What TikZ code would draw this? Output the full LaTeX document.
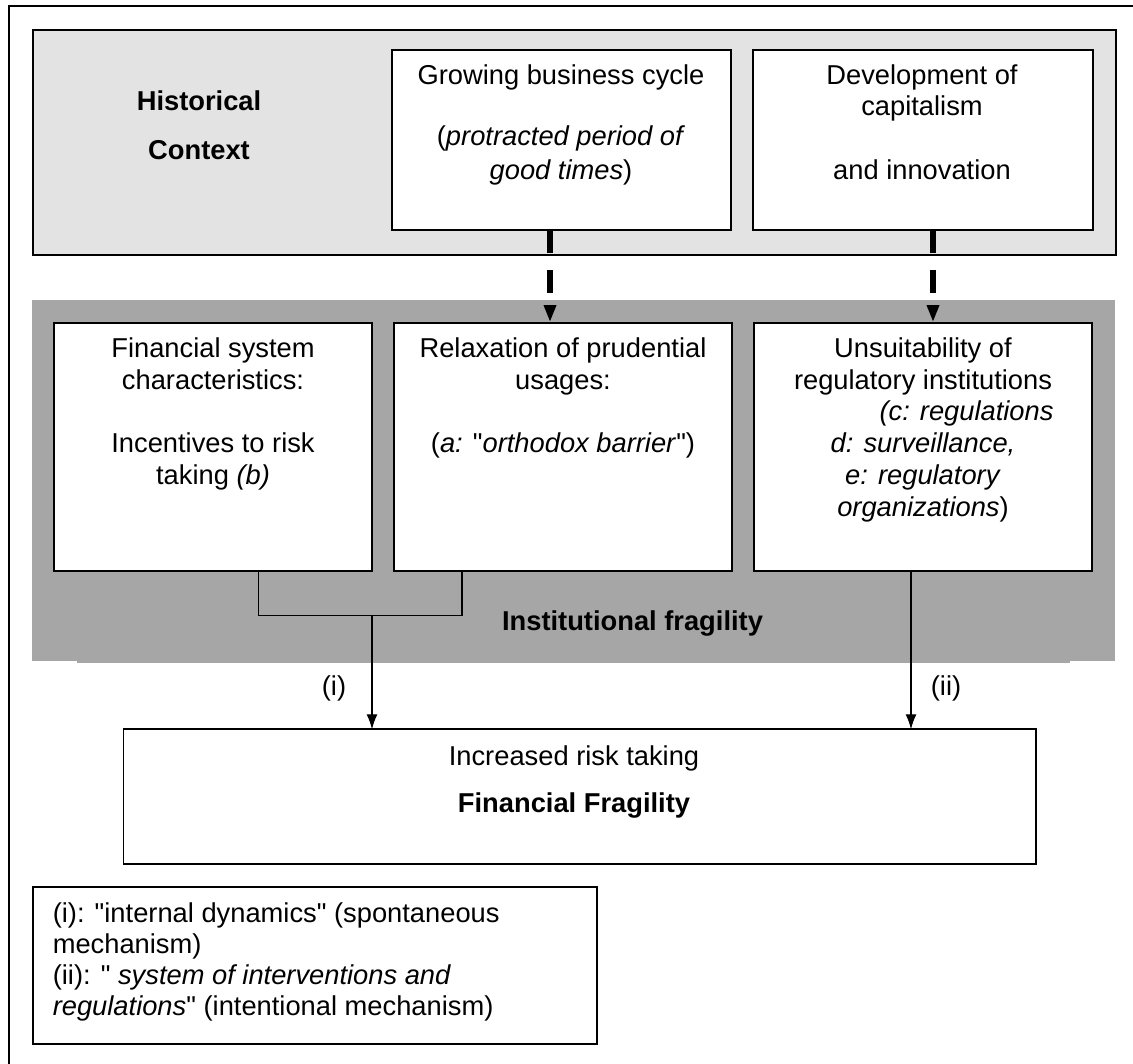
\documentclass[tikz,border=0pt]{standalone}
\usepackage{fontspec}
\setmainfont{Liberation Sans}[Ligatures=TeXOff]
\usetikzlibrary{arrows.meta}
\definecolor{histgray}{RGB}{227,227,227}
\definecolor{instgray}{RGB}{166,166,166}
\begin{document}
\begin{tikzpicture}[x=1pt,y=-1pt,
  box/.style={draw=black, line width=1.8pt, fill=white, inner sep=0pt, outer sep=0pt},
  txt/.style={inner sep=0pt, anchor=base, font=\fontsize{27.3}{31.7}\selectfont},
  ltxt/.style={txt, anchor=base west},
  conn/.style={draw=black, line width=1.3pt},
  thickdash/.style={draw=black, line width=6pt, dash pattern=on 23pt off 17pt},
  tip/.style={-{Latex[length=15pt,width=11pt]}}]
\useasboundingbox (0,0) rectangle (1133,1064);
% outer frame (cut at right and bottom)
\draw[line width=2pt] (1133,6) -- (9,6) -- (9,1064);
% historical context band
\node[box, fill=histgray, line width=1.6pt, minimum width=1083.3pt, minimum height=225pt] (hist) at (574.35,142.5) {};
% institutional fragility band
\node[fill=instgray, inner sep=0pt, outer sep=0pt, minimum width=1083pt, minimum height=360.7pt] (inst) at (573.5,480.35) {};
\node[fill=instgray, inner sep=0pt, outer sep=0pt, minimum width=993.5pt, minimum height=3.3pt] (instb) at (573.25,661.65) {};
% boxes
\node[box, minimum width=339pt, minimum height=180pt] (grow) at (561.5,140) {};
\node[box, minimum width=340pt, minimum height=180pt] (dev) at (922.7,140) {};
\node[box, minimum width=317.7pt, minimum height=248pt] (fin) at (213.15,446.7) {};
\node[box, minimum width=337.8pt, minimum height=248pt] (relax) at (562.9,446.7) {};
\node[box, minimum width=338.3pt, minimum height=248pt] (unsuit) at (922.85,446.7) {};
\node[box, minimum width=912.5pt, minimum height=134.7pt] (incr) at (579.75,796.65) {};
\node[box, minimum width=564pt, minimum height=157.6pt] (legend) at (315,965.5) {};
% dashed connectors
\coordinate (dL) at (550,0);
\coordinate (dR) at (933,0);
\draw[thickdash] (grow.south -| dL) -- ([yshift=17pt]relax.north -| dL);
\fill ([yshift=1.5pt]relax.north -| dL) -- ++(-6.5,-16) -- ++(13,0) -- cycle;
\draw[thickdash] (dev.south -| dR) -- ([yshift=17pt]unsuit.north -| dR);
\fill ([yshift=1.5pt]unsuit.north -| dR) -- ++(-6.5,-16) -- ++(13,0) -- cycle;
% (i) connector
\coordinate (jn) at (372,615.3);
\draw[conn] ([xshift=45.5pt]fin.south) |- (jn) -| ([xshift=-100.9pt]relax.south);
\draw[conn, tip] (jn) -- (jn |- incr.north);
% (ii) connector
\draw[conn, tip] ([xshift=-11.85pt]unsuit.south) -- ([xshift=-11.85pt]unsuit.south |- incr.north);
% texts
\node[txt, font=\fontsize{27.3}{31.7}\selectfont\bfseries] (h1) at (199,111) {Historical};
\node[txt, font=\fontsize{27.3}{31.7}\selectfont\bfseries] (h2) at (199,160) {Context};
\node[txt] (g1) at (561,85) {Growing business cycle};
\node[txt] (g2) at (561,146) {(\textit{protracted period of}};
\node[txt] (g3) at (561,180) {\textit{good times})};
\node[txt] (d1) at (922,85) {Development of};
\node[txt] (d2) at (922,116) {capitalism};
\node[txt] (d3) at (922,180) {and innovation};
\node[txt] (f1) at (213,358) {Financial system};
\node[txt] (f2) at (213,390) {characteristics:};
\node[txt] (f3) at (213,453) {Incentives to risk};
\node[txt] (f4) at (213,485) {taking \textit{(b)}};
\node[txt] (r1) at (563,358) {Relaxation of prudential};
\node[txt] (r2) at (563,390) {usages:};
\node[txt] (r3) at (563,453) {(\textit{a:} "\textit{orthodox barrier}")};
\node[txt] (u1) at (923,358) {Unsuitability of};
\node[txt] (u2) at (923,390) {regulatory institutions};
\node[txt] (u3) at (966.5,421) {\textit{(c: regulations}};
\node[txt] (u4) at (923,453) {\textit{d: surveillance,}};
\node[txt] (u5) at (923,485) {\textit{e: regulatory}};
\node[txt] (u6) at (923,516) {\textit{organizations})};
\node[txt, font=\fontsize{27.3}{31.7}\selectfont\bfseries] (if) at (632.5,630) {Institutional fragility};
\node[txt] (li) at (334,695) {(i)};
\node[txt] (lii) at (946,695) {(ii)};
\node[txt] (c1) at (574,765) {Increased risk taking};
\node[txt, font=\fontsize{27.3}{31.7}\selectfont\bfseries] (c2) at (574,812) {Financial Fragility};
\node[ltxt] (l1) at (52.6,922) {(i): "internal dynamics" (spontaneous};
\node[ltxt] (l2) at (52.6,953) {mechanism)};
\node[ltxt] (l3) at (52.6,984) {(ii): " \textit{system of interventions and}};
\node[ltxt] (l4) at (52.6,1015) {\textit{regulations}" (intentional mechanism)};
\end{tikzpicture}
\end{document}
